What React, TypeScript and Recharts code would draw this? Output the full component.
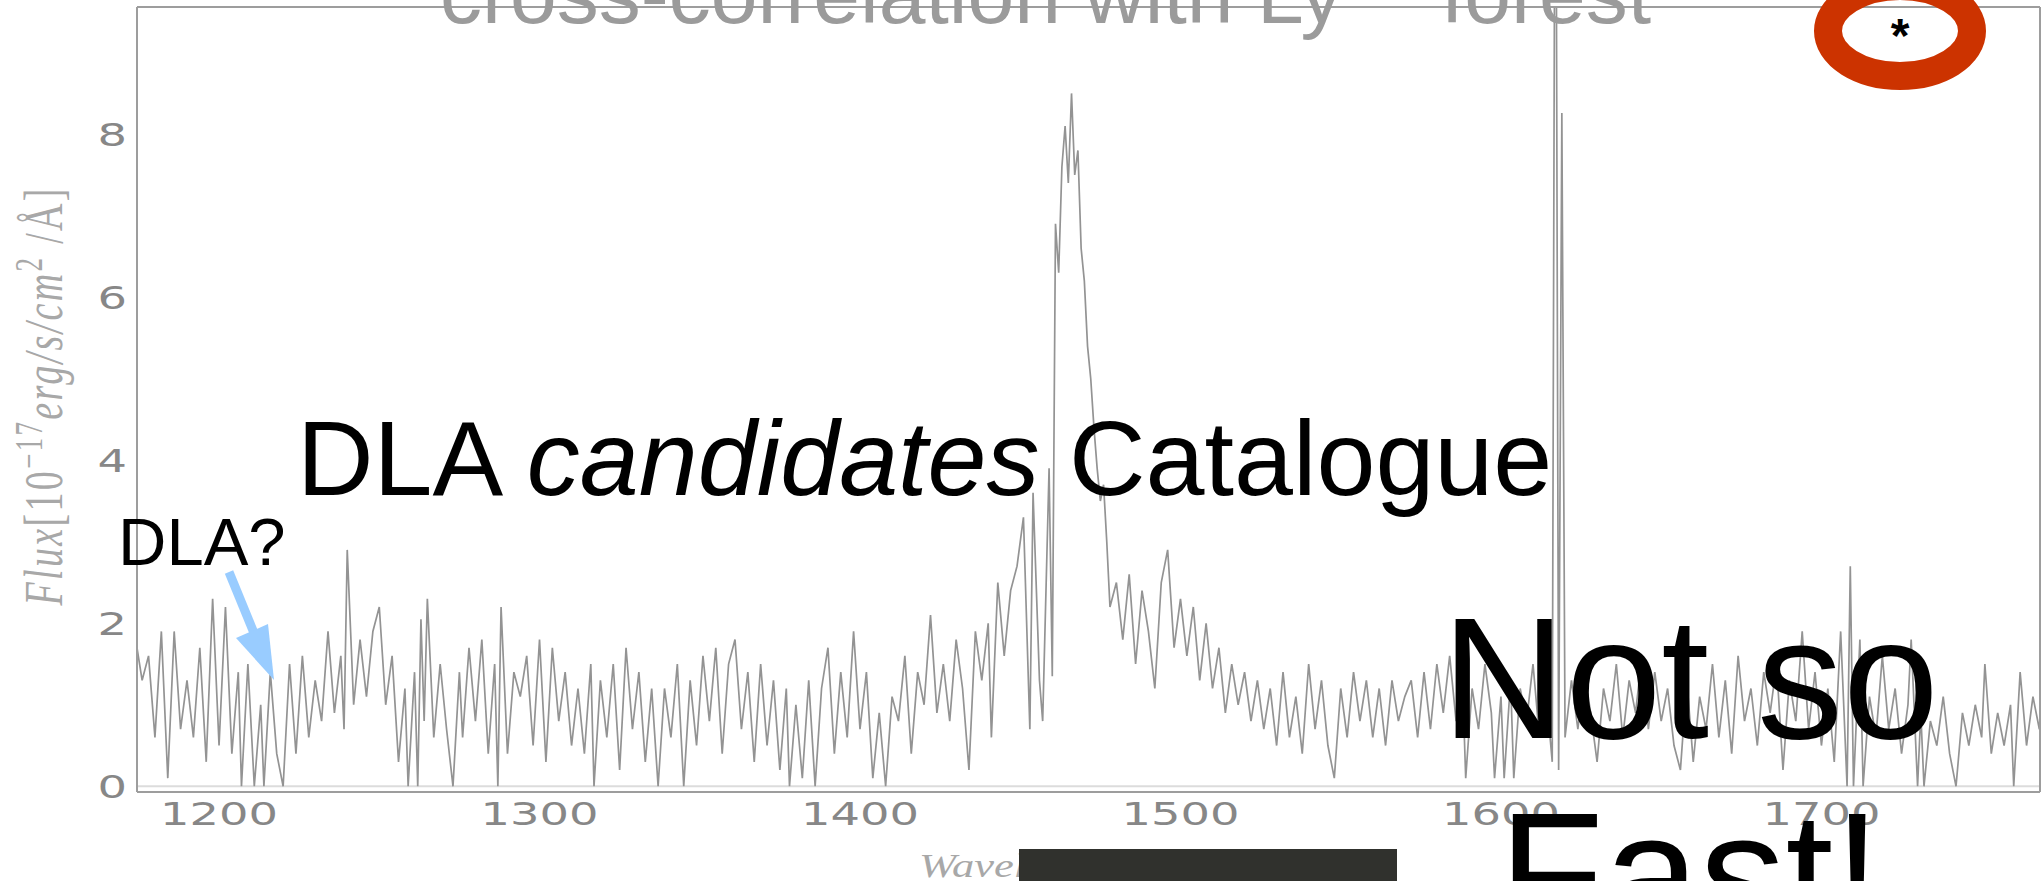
import React from 'react';
import { LineChart, Line, XAxis, YAxis, ReferenceLine } from 'recharts';

// wavelength (Å) / flux (1e-17 erg/s/cm²/Å) pairs
const blueForest: [number, number][] = [
  [1174, 1.8], [1176, 1.3], [1178, 1.6], [1180, 0.6], [1182, 1.9], [1184, 0.1], [1186, 1.9], [1188, 0.7],
  [1190, 1.3], [1192, 0.6], [1194, 1.7], [1196, 0.3], [1198, 2.3], [1200, 0.5], [1202, 2.2], [1204, 0.4],
  [1206, 1.4], [1207, 0.0], [1209, 1.5], [1211, 0.0], [1213, 1.0], [1214, 0.0], [1216, 1.4], [1218, 0.4],
  [1220, 0.0], [1222, 1.5], [1224, 0.4], [1226, 1.6], [1228, 0.6], [1230, 1.3], [1232, 0.8], [1234, 1.9],
  [1236, 0.9], [1238, 1.6], [1239, 0.7], [1240, 2.9], [1242, 1.0], [1244, 1.8], [1246, 1.1], [1248, 1.9],
  [1250, 2.2], [1252, 1.0], [1254, 1.6], [1256, 0.3], [1258, 1.2], [1259, 0.0], [1261, 1.4], [1262, 0.0],
  [1263, 2.05], [1264, 0.8], [1265, 2.3], [1267, 0.6], [1269, 1.5], [1271, 0.7], [1273, 0.0], [1275, 1.4],
];
const midForest: [number, number][] = [
  [1276, 0.6], [1278, 1.7], [1280, 0.8], [1282, 1.8], [1284, 0.4], [1286, 1.5], [1287, 0.0], [1288, 2.2],
  [1290, 0.4], [1292, 1.4], [1294, 1.1], [1296, 1.6], [1298, 0.5], [1300, 1.8], [1302, 0.3], [1304, 1.7],
  [1306, 0.8], [1308, 1.4], [1310, 0.5], [1312, 1.2], [1314, 0.4], [1316, 1.5], [1317, 0.0], [1319, 1.3],
  [1321, 0.6], [1323, 1.5], [1325, 0.2], [1327, 1.7], [1329, 0.7], [1331, 1.4], [1333, 0.3], [1335, 1.2],
  [1337, 0.0], [1339, 1.2], [1341, 0.6], [1343, 1.5], [1345, 0.0], [1347, 1.3], [1349, 0.5], [1351, 1.6],
  [1353, 0.8], [1355, 1.7], [1357, 0.4], [1359, 1.5], [1361, 1.8], [1363, 0.7], [1365, 1.4], [1367, 0.3],
  [1369, 1.5], [1371, 0.5], [1373, 1.3], [1375, 0.2],
];
const redForest: [number, number][] = [
  [1377, 1.2], [1378, 0.0], [1380, 1.0], [1382, 0.1], [1384, 1.3], [1386, 0.0], [1388, 1.2], [1390, 1.7],
  [1392, 0.4], [1394, 1.4], [1396, 0.6], [1398, 1.9], [1400, 0.7], [1402, 1.4], [1404, 0.1], [1406, 0.9],
  [1408, 0.0], [1410, 1.1], [1412, 0.8],
];
const lyaLine: [number, number][] = [
  [1414, 1.6], [1416, 0.4], [1418, 1.4], [1420, 1.0], [1422, 2.1], [1424, 0.9], [1426, 1.5], [1428, 0.8],
  [1430, 1.8], [1432, 1.2], [1434, 0.2], [1436, 1.9], [1438, 1.3], [1440, 2.0], [1441, 0.6], [1443, 2.5],
  [1445, 1.6], [1447, 2.4], [1449, 2.7], [1451, 3.3], [1453, 0.7], [1454, 3.6], [1456, 1.3], [1457, 0.8],
  [1459, 3.9], [1460, 1.35], [1461, 6.9], [1462, 6.3], [1463, 7.6], [1464, 8.1], [1465, 7.4], [1466, 8.5],
  [1467, 7.5], [1468, 7.8], [1469, 6.6], [1470, 6.2], [1471, 5.4], [1472, 5.0], [1473, 4.4], [1474, 3.9],
  [1475, 3.5], [1476, 3.7], [1477, 3.0], [1478, 2.2],
];
const redWing: [number, number][] = [
  [1480, 2.5], [1482, 1.8], [1484, 2.6], [1486, 1.5], [1488, 2.4], [1490, 1.9], [1492, 1.2], [1494, 2.5],
  [1496, 2.9], [1498, 1.7], [1500, 2.3], [1502, 1.6], [1504, 2.2], [1506, 1.3], [1508, 2.0], [1510, 1.2],
  [1512, 1.7], [1514, 0.9], [1516, 1.5], [1518, 1.0], [1520, 1.4], [1522, 0.8], [1524, 1.3], [1526, 0.7],
  [1528, 1.2], [1530, 0.5], [1532, 1.4], [1534, 0.6], [1536, 1.1], [1538, 0.4], [1540, 1.5], [1542, 0.7],
  [1544, 1.3], [1546, 0.5], [1548, 0.1], [1550, 1.2], [1552, 0.6], [1554, 1.4], [1556, 0.8], [1558, 1.3],
  [1560, 0.6], [1562, 1.2], [1564, 0.5], [1566, 1.3], [1568, 0.8], [1570, 1.1],
];
const skyLine: [number, number][] = [
  [1572, 1.3], [1574, 0.6], [1576, 1.4], [1578, 0.7], [1580, 1.5], [1582, 0.9], [1584, 1.6], [1586, 0.8],
  [1588, 1.3], [1589, 0.1], [1591, 1.2], [1593, 0.7], [1595, 1.5], [1597, 0.9], [1598, 0.1], [1600, 1.1],
  [1601, 0.1], [1603, 1.3], [1604, 0.1], [1606, 1.2], [1608, 0.8], [1610, 1.5], [1612, 0.6], [1614, 1.2],
  [1616, 0.3], [1617, 14.0], [1618, 0.2], [1619, 8.26], [1620, 0.6],
];
const continuum: [number, number][] = [
  [1622, 1.3], [1624, 0.7], [1626, 1.4], [1628, 0.9], [1630, 0.3], [1632, 1.2], [1634, 0.8], [1636, 1.5],
  [1638, 0.6], [1640, 1.3], [1642, 0.9], [1644, 1.6], [1646, 0.7], [1648, 1.4], [1650, 0.8], [1652, 1.2],
  [1654, 0.5], [1656, 0.2], [1658, 1.3], [1660, 0.3], [1662, 1.1], [1664, 0.7], [1666, 1.5], [1668, 0.6],
  [1670, 1.3], [1672, 0.4], [1674, 1.6], [1676, 0.8], [1678, 1.2], [1680, 0.5], [1682, 1.4], [1684, 0.9],
  [1686, 1.5], [1688, 0.2], [1690, 1.3], [1692, 0.8], [1694, 1.9], [1696, 0.7], [1698, 1.4], [1700, 0.5],
  [1702, 1.2], [1704, 0.3], [1706, 1.9], [1708, 0.0], [1709, 2.7], [1710, 0.0], [1712, 1.8], [1713, 0.0],
  [1715, 1.1], [1717, 0.6], [1719, 1.6], [1721, 0.7], [1723, 1.2], [1725, 0.4], [1727, 1.0], [1728, 1.8],
  [1730, 0.0], [1731, 0.9], [1732, 0.0], [1734, 0.8], [1736, 0.5], [1738, 1.1], [1740, 0.4], [1742, 0.0],
  [1744, 0.9], [1746, 0.5], [1748, 1.0], [1750, 0.6], [1751, 1.5], [1753, 0.4], [1755, 0.9], [1757, 0.5],
  [1759, 1.0], [1760, 0.0], [1762, 1.4], [1764, 0.5], [1766, 1.1], [1768, 0.7],
];

const xTicks = [1200, 1300, 1400, 1500, 1600, 1700];
const yTicks = [0, 2, 4, 6, 8];
const xDomain: [number, number] = [1174.4, 1768.2];
const yDomain: [number, number] = [-0.07, 9.56];

const spectrum = [...blueForest, ...midForest, ...redForest, ...lyaLine, ...redWing, ...skyLine, ...continuum].map(
  ([w, f]) => ({ w, f })
);

const AXIS = '#9d9d9d';
const TICK_TXT = '#878787';
const STRETCH = 1.45;

const XTick = (props: any) => {
  const { x, y, payload } = props;
  return (
    <text
      transform={`translate(${x},${y}) scale(${STRETCH},1)`}
      textAnchor="middle"
      dy="0.73em"
      fill={TICK_TXT}
      fontSize={32}
      fontFamily="DejaVu Sans, sans-serif"
    >
      {payload.value}
    </text>
  );
};

const YTick = (props: any) => {
  const { x, y, payload } = props;
  return (
    <text
      transform={`translate(${x},${y}) scale(${STRETCH},1)`}
      textAnchor="end"
      dy="0.36em"
      fill={TICK_TXT}
      fontSize={32}
      fontFamily="DejaVu Sans, sans-serif"
    >
      {payload.value}
    </text>
  );
};

export default function App() {
  return (
    <div style={{ position: 'absolute', left: 0, top: 0, width: 2043, height: 881, overflow: 'hidden', background: '#fff' }}>
      <LineChart
        width={2043}
        height={881}
        data={spectrum}
        margin={{ top: 7, right: 3, bottom: 59, left: 77 }}
      >
        <XAxis
          xAxisId="main"
          dataKey="w"
          type="number"
          domain={xDomain}
          allowDataOverflow
          ticks={xTicks}
          height={30}
          tickLine={false}
          tickSize={6}
          tickMargin={4}
          axisLine={{ stroke: AXIS, strokeWidth: 2 }}
          tick={<XTick />}
        />
        <XAxis
          xAxisId="bottomIn"
          dataKey="w"
          type="number"
          domain={xDomain}
          allowDataOverflow
          ticks={xTicks}
          orientation="bottom"
          mirror
          height={30}
          tickSize={10}
          tickLine={{ stroke: AXIS, strokeWidth: 1.5 }}
          axisLine={false}
          tick={false}
        />
        <XAxis
          xAxisId="top"
          dataKey="w"
          type="number"
          domain={xDomain}
          allowDataOverflow
          ticks={xTicks}
          orientation="top"
          mirror
          height={30}
          tickSize={10}
          tickLine={{ stroke: AXIS, strokeWidth: 1.5 }}
          axisLine={{ stroke: AXIS, strokeWidth: 2 }}
          tick={false}
        />
        <YAxis
          yAxisId="main"
          type="number"
          domain={yDomain}
          allowDataOverflow
          ticks={yTicks}
          width={60}
          tickLine={false}
          tickSize={6}
          tickMargin={4}
          axisLine={{ stroke: AXIS, strokeWidth: 2 }}
          tick={<YTick />}
        />
        <YAxis
          yAxisId="leftIn"
          type="number"
          domain={yDomain}
          allowDataOverflow
          ticks={yTicks}
          orientation="left"
          mirror
          width={60}
          tickSize={12}
          tickLine={{ stroke: AXIS, strokeWidth: 1.5 }}
          axisLine={false}
          tick={false}
        />
        <YAxis
          yAxisId="right"
          type="number"
          domain={yDomain}
          allowDataOverflow
          ticks={yTicks}
          orientation="right"
          mirror
          width={60}
          tickSize={12}
          tickLine={{ stroke: AXIS, strokeWidth: 1.5 }}
          axisLine={{ stroke: AXIS, strokeWidth: 2 }}
          tick={false}
        />
        <ReferenceLine xAxisId="main" yAxisId="main" y={0} stroke="#dcdcdc" strokeWidth={2} />
        <Line
          xAxisId="main"
          yAxisId="main"
          type="linear"
          dataKey="f"
          stroke="#939393"
          strokeWidth={1.7}
          dot={false}
          isAnimationActive={false}
        />
      </LineChart>

      <svg
        width={2043}
        height={881}
        style={{ position: 'absolute', left: 0, top: 0, pointerEvents: 'none' }}
      >
        {/* slide title, cut off at the top */}
        <text x={440} y={23} fontSize={84} fill="#9b9b9b" fontFamily="Liberation Sans, Arial, sans-serif">
          cross-correlation with Ly
        </text>
        <text x={1441} y={23} fontSize={84} fill="#9b9b9b" fontFamily="Liberation Sans, Arial, sans-serif">
          forest
        </text>

        {/* y-axis label of the figure */}
        <text
          transform={`translate(62,397) scale(${STRETCH},1) rotate(-90)`}
          textAnchor="middle"
          fontSize={38}
          fill="#a8a8a8"
          fontFamily="Liberation Serif, DejaVu Serif, serif"
          fontStyle="italic"
          textLength={417}
          lengthAdjust="spacing"
        >
          Flux
          <tspan fontStyle="normal">[10</tspan>
          <tspan fontStyle="normal" fontSize={27} dy={-14}>−17</tspan>
          <tspan dy={14}>erg/s/cm</tspan>
          <tspan fontStyle="normal" fontSize={27} dy={-14}>2</tspan>
          <tspan fontStyle="normal" dy={14}> /Å]</tspan>
        </text>

        {/* x-axis label of the figure */}
        <text
          transform={`translate(919,877) scale(1.35,1)`}
          fontSize={33}
          fill="#a8a8a8"
          fontFamily="Liberation Serif, DejaVu Serif, serif"
          fontStyle="italic"
        >
          Wavelength
          <tspan fontStyle="normal" dx={40}>[Å]</tspan>
        </text>

        {/* dark photo block at the bottom */}
        <rect x={1019} y={849} width={378} height={32} fill="#30312d" />

        {/* overlay texts */}
        <text x={297} y={495} fontSize={106} fill="#000" fontFamily="Liberation Sans, Arial, sans-serif">
          DLA <tspan fontStyle="italic">candidates</tspan> Catalogue
        </text>
        <text x={118} y={565} fontSize={67} fill="#000" fontFamily="Liberation Sans, Arial, sans-serif">
          DLA?
        </text>
        <line x1={229} y1={572} x2={254} y2={633} stroke="#99ccff" strokeWidth={9} />
        <polygon points="236,638 268,624 274,680" fill="#99ccff" />

        <text x={1690} y={738} fontSize={172} fill="#000" textAnchor="middle" fontFamily="Liberation Sans, Arial, sans-serif">
          Not so
        </text>
        <text x={1690} y={933} fontSize={172} fill="#000" textAnchor="middle" fontFamily="Liberation Sans, Arial, sans-serif">
          Fast!
        </text>

        {/* red circle with asterisk */}
        <ellipse cx={1900} cy={31} rx={72} ry={45} fill="none" stroke="#cc3300" strokeWidth={28} />
        <text x={1900} y={52} fontSize={48} fontWeight="bold" textAnchor="middle" fill="#000" fontFamily="Liberation Sans, Arial, sans-serif">
          *
        </text>
      </svg>
    </div>
  );
}
